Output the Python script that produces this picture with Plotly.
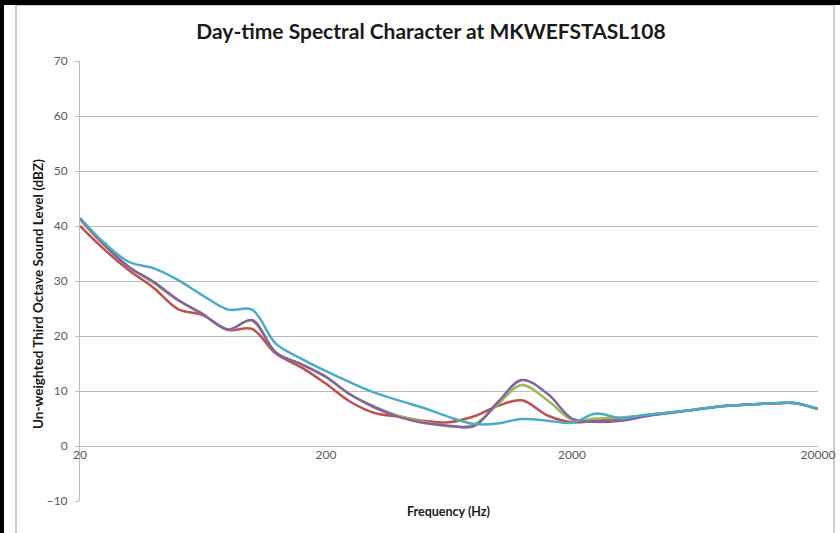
import plotly.graph_objects as go
import math

freqs = [20, 25, 31.5, 40, 50, 63, 80, 100, 125, 160, 200, 250, 315, 400, 500, 630,
         800, 1000, 1250, 1600, 2000, 2500, 3150, 4000, 5000, 6300, 8000, 10000,
         12500, 16000, 20000]

series_red = [40.0, 35.8, 32.0, 28.7, 24.9, 23.8, 21.1, 21.3, 16.8, 14.2, 11.3, 8.1, 6.0,
              5.3, 4.6, 4.3, 5.4, 7.3, 8.3, 5.5, 4.3, 4.6, 5.0, 5.6, 6.1, 6.6, 7.2,
              7.5, 7.7, 7.8, 6.7]
series_green = [41.2, 36.6, 32.6, 29.6, 26.5, 24.0, 21.2, 22.8, 17.0, 14.8, 12.5, 9.4, 7.2,
                5.4, 4.4, 3.6, 3.9, 7.6, 11.1, 8.2, 4.8, 5.0, 5.2, 5.6, 6.1, 6.6, 7.2,
                7.5, 7.7, 7.8, 6.7]
series_purple = [41.3, 36.6, 32.6, 29.8, 26.6, 24.0, 21.2, 22.9, 17.0, 14.8, 12.6, 9.4, 7.0,
                 5.2, 4.2, 3.7, 3.6, 8.0, 12.0, 9.4, 5.0, 4.4, 4.6, 5.4, 6.0, 6.6, 7.2,
                 7.5, 7.7, 7.8, 6.7]
series_cyan = [41.5, 37.0, 33.5, 32.3, 30.2, 27.4, 24.8, 24.8, 18.6, 15.8, 13.6, 11.6, 9.7,
               8.2, 6.9, 5.3, 4.0, 4.1, 4.9, 4.6, 4.2, 5.9, 5.1, 5.7, 6.1, 6.6, 7.2,
               7.5, 7.7, 7.8, 6.7]

series = [
    ("Series 2", series_red, "#C0504D"),
    ("Series 3", series_green, "#9BBB59"),
    ("Series 4", series_purple, "#8064A2"),
    ("Series 5", series_cyan, "#4BACC6"),
]

x_ticks = [20, 200, 2000, 20000]
x_ticktext = ["20", "200", "2000", "20000"]
y_ticks = [-10, 0, 10, 20, 30, 40, 50, 60, 70]

fig = go.Figure()
for name, vals, col in series:
    fig.add_trace(go.Scatter(x=freqs, y=vals, mode="lines", name=name,
                             line=dict(color=col, width=2.5, shape="spline", smoothing=1)))

W, H = 840, 533
L, R, T, B = 80, 22, 61, 32
pw, ph = W - L - R, H - T - B

def px_x(p):
    return (p - L) / pw

def px_y(p):
    return (H - B - p) / ph

fig.update_layout(
    width=W, height=H,
    margin=dict(l=L, r=R, t=T, b=B, autoexpand=False),
    paper_bgcolor="white", plot_bgcolor="white",
    showlegend=False,
    font=dict(family="Lato, Liberation Sans, Arial", size=12, color="#595959"),
    title=dict(text="<b>Day-time Spectral Character at MKWEFSTASL108</b>",
               x=431 / W, xanchor="center", y=1 - 32 / H, yanchor="middle",
               font=dict(family="Lato, Liberation Sans, Arial", size=21, color="#1a1a1a")),
    xaxis=dict(type="log", range=[math.log10(20), math.log10(20000)],
               tickvals=x_ticks, ticktext=x_ticktext, showgrid=False,
               zeroline=False, showline=False, ticks="",
               anchor="free", position=10 / 80, automargin=False,
               tickfont=dict(size=12, color="#595959")),
    yaxis=dict(range=[-10, 70], tickvals=y_ticks, showgrid=True,
               gridcolor="#bcbcbc", gridwidth=1, zeroline=False,
               showline=True, linecolor="#bcbcbc", linewidth=1,
               ticks="outside", ticklen=4, tickcolor="#bcbcbc", automargin=False,
               ticklabelstandoff=5,
               tickfont=dict(size=12, color="#595959")),
)

fig.add_annotation(text="<b>Un-weighted Third Octave Sound Level (dBZ)</b>",
                   xref="paper", yref="paper", x=px_x(38), y=px_y(294),
                   textangle=-90, showarrow=False, xanchor="center", yanchor="middle",
                   font=dict(size=13.5, color="#1a1a1a"))
fig.add_annotation(text="<b>Frequency (Hz)</b>",
                   xref="paper", yref="paper", x=px_x(448), y=px_y(512),
                   showarrow=False, xanchor="center", yanchor="middle",
                   font=dict(size=12.5, color="#1a1a1a"))

# chart-area border and black frame edges
fig.add_shape(type="rect", xref="paper", yref="paper",
              x0=px_x(16), x1=px_x(834), y0=px_y(540), y1=px_y(5),
              line=dict(color="#9a9a9a", width=1), fillcolor="rgba(0,0,0,0)", layer="below")
fig.add_shape(type="rect", xref="paper", yref="paper",
              x0=px_x(0), x1=px_x(W), y0=px_y(5), y1=px_y(0),
              line=dict(width=0), fillcolor="black")
fig.add_shape(type="rect", xref="paper", yref="paper",
              x0=px_x(0), x1=px_x(4), y0=px_y(H), y1=px_y(0),
              line=dict(width=0), fillcolor="black")

fig.write_html("out.html", config={"displayModeBar": False},
               post_script="document.body.style.margin='0px';document.body.style.overflow='hidden';")
